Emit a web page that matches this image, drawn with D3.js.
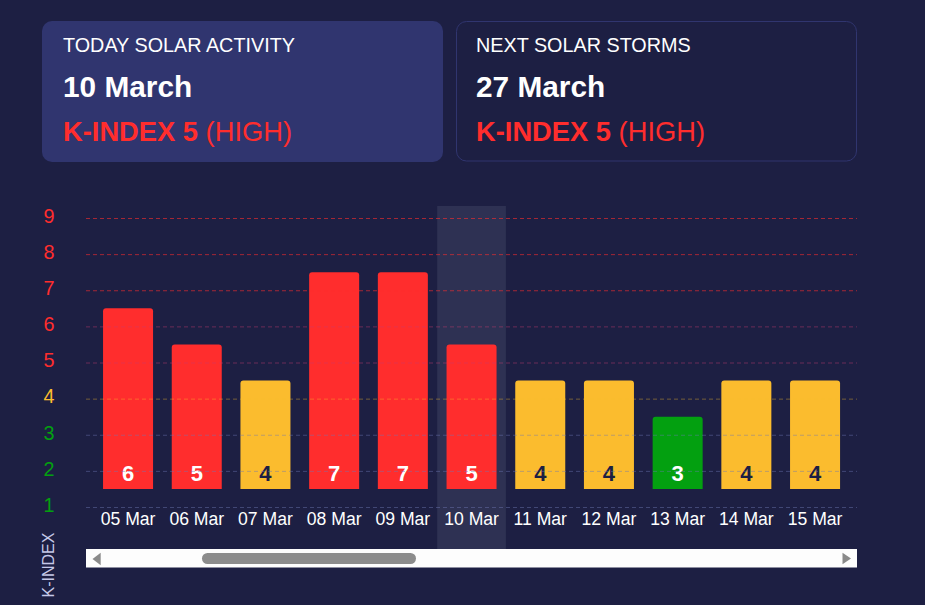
<!DOCTYPE html>
<html>
<head>
<meta charset="utf-8">
<script src="https://cdn.jsdelivr.net/npm/d3@7"></script>
<style>
  html, body { margin: 0; padding: 0; background: #1d1f43; }
  svg { display: block; font-family: "Liberation Sans", Arial, sans-serif; }
</style>
</head>
<body>
<svg id="chart" width="925" height="605"></svg>
<script>
// ---- data ----
const categories = ["05 Mar", "06 Mar", "07 Mar", "08 Mar", "09 Mar", "10 Mar", "11 Mar", "12 Mar", "13 Mar", "14 Mar", "15 Mar"];
const kIndex = [6, 5, 4, 7, 7, 5, 4, 4, 3, 4, 4];
const yTicks = [1, 2, 3, 4, 5, 6, 7, 8, 9];
const todayLabel = "10 Mar";
const cardTitles = ["TODAY SOLAR ACTIVITY", "NEXT SOLAR STORMS"];
const cardDates = ["10 March", "27 March"];
const cardK = ["K-INDEX 5", "K-INDEX 5"];
const cardLevels = ["(HIGH)", "(HIGH)"];

// ---- style ----
const RED = "#ff2d2d", YELLOW = "#fbbc2e", GREEN = "#03a010", BG = "#1d1f43", CARD = "#30356f";
const levelColor = v => v >= 5 ? RED : (v === 4 ? YELLOW : GREEN);
const labelColor = v => v === 4 ? BG : "#ffffff";
const gridColor = v => v >= 7 ? "rgba(255,45,45,0.6)" : v >= 5 ? "rgba(200,60,110,0.45)" : v === 4 ? "rgba(251,188,46,0.4)" : "rgba(110,120,180,0.45)";

const svg = d3.select("#chart");

// ---- header cards ----
const cards = cardTitles.map((t, i) => ({ title: t, date: cardDates[i], k: cardK[i], level: cardLevels[i] }));
const cardG = svg.selectAll("g.card").data(cards).join("g")
  .attr("class", "card")
  .attr("transform", (d, i) => `translate(${i === 0 ? 42 : 456.5},${i === 0 ? 21 : 21.5})`);
cardG.append("rect")
  .attr("width", (d, i) => i === 0 ? 401 : 400)
  .attr("height", (d, i) => i === 0 ? 141 : 139.5)
  .attr("rx", 10)
  .attr("fill", (d, i) => i === 0 ? CARD : BG)
  .attr("stroke", (d, i) => i === 0 ? "none" : "#30356f")
  .attr("stroke-width", 1);
cardG.append("text").attr("x", (d, i) => i === 0 ? 21 : 19.5).attr("y", (d, i) => i === 0 ? 31 : 30.5)
  .attr("fill", "#fff").style("font-size", "19.8px").text(d => d.title);
cardG.append("text").attr("x", (d, i) => i === 0 ? 21 : 19.5).attr("y", (d, i) => i === 0 ? 76 : 75.5)
  .attr("fill", "#fff").style("font-size", "29.8px").style("font-weight", "bold").text(d => d.date);
const kt = cardG.append("text").attr("x", (d, i) => i === 0 ? 21 : 19.5).attr("y", (d, i) => i === 0 ? 120 : 119.5)
  .attr("fill", RED).style("font-size", "27.3px");
kt.append("tspan").style("font-weight", "bold").text(d => d.k);
kt.append("tspan").text(d => " " + d.level);

// ---- chart geometry ----
const plotLeft = 86, plotRight = 857, plotTop = 206;
const x = d3.scaleBand().domain(categories).range([93.7, 849.4]).paddingInner(0.272).paddingOuter(0.136);
const y = d3.scaleLinear().domain([1, 9]).range([507, 218]);
const step = x.step(), bw = x.bandwidth();

svg.append("defs").append("clipPath").attr("id", "plotClip")
  .append("rect").attr("x", plotLeft).attr("y", 0).attr("width", plotRight - plotLeft).attr("height", 605);

const plot = svg.append("g").attr("clip-path", "url(#plotClip)");

// highlight band for today
plot.append("rect")
  .attr("x", x(todayLabel) - (step - bw) / 2)
  .attr("y", plotTop)
  .attr("width", step)
  .attr("height", 549 - plotTop)
  .attr("fill", "#2e3153");

// y axis with grid
const yAxis = svg.append("g").attr("transform", `translate(${plotLeft},0)`)
  .call(d3.axisLeft(y).tickValues(yTicks).tickSize(-(plotRight - plotLeft)).tickFormat(d3.format("d")));
yAxis.select(".domain").remove();
yAxis.selectAll(".tick line")
  .attr("stroke", d => gridColor(d))
  .attr("stroke-dasharray", "4,3");
yAxis.selectAll(".tick text")
  .attr("x", -37).attr("dy", "0.32em").attr("y", -2)
  .attr("text-anchor", "middle")
  .attr("fill", d => levelColor(d))
  .style("font-size", "19.8px");

// x axis labels
const xAxis = plot.append("g").attr("transform", `translate(0,${y(1)})`)
  .call(d3.axisBottom(x).tickSize(0).tickPadding(5.5));
xAxis.select(".domain").remove();
xAxis.selectAll(".tick text").attr("fill", "#ffffff").style("font-size", "17.6px");

// bars (drawn from 1.5 up to value + 0.5)
const barData = categories.map((c, i) => ({ c, v: kIndex[i] }));
const r = 3;
plot.selectAll("path.bar").data(barData).join("path")
  .attr("class", "bar")
  .attr("fill", d => levelColor(d.v))
  .attr("d", d => {
    const x0 = x(d.c), x1 = x0 + bw, yt = y(d.v + 0.5), yb = y(1.5);
    return `M${x0},${yb}V${yt + r}Q${x0},${yt} ${x0 + r},${yt}H${x1 - r}Q${x1},${yt} ${x1},${yt + r}V${yb}Z`;
  });
plot.selectAll("text.val").data(barData).join("text")
  .attr("class", "val")
  .attr("x", d => x(d.c) + bw / 2)
  .attr("y", y(1.5) - 8)
  .attr("text-anchor", "middle")
  .attr("fill", d => labelColor(d.v))
  .style("font-size", "22px").style("font-weight", "bold")
  .text(d => d.v);

// y axis title
svg.append("text")
  .attr("transform", "translate(54,565) rotate(-90)")
  .attr("text-anchor", "middle")
  .attr("fill", "#c5c8e8")
  .style("font-size", "16px")
  .text("K-INDEX");

// scrollbar
const sb = svg.append("g");
sb.append("rect").attr("x", plotLeft).attr("y", 549).attr("width", plotRight - plotLeft).attr("height", 18.5).attr("fill", "#fdfdfd");
sb.append("path").attr("d", "M92.5,559L100.7,552.7V565.3Z").attr("fill", "#8a8a8a");
sb.append("path").attr("d", "M851,558.5L842.5,552.7V564.3Z").attr("fill", "#8a8a8a");
sb.append("rect").attr("x", 202).attr("y", 553).attr("width", 214).attr("height", 11).attr("rx", 5.5).attr("fill", "#8c8c8c");
</script>
</body>
</html>
